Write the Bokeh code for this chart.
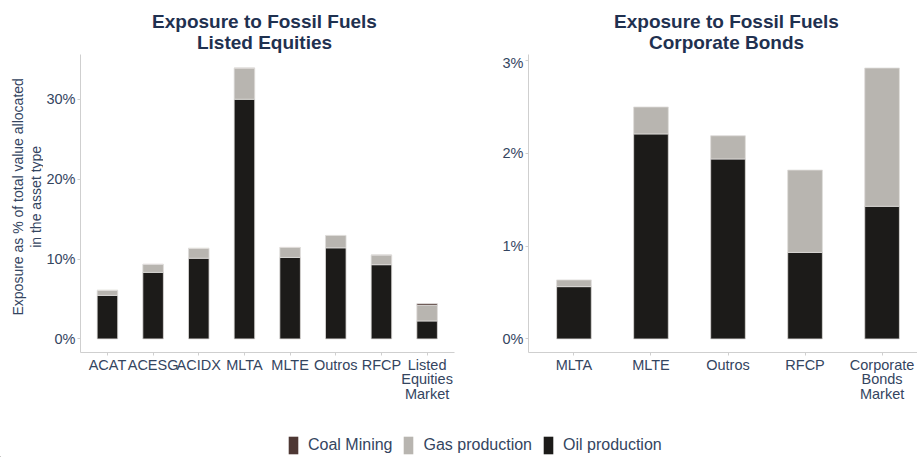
import math
from bokeh.plotting import figure
from bokeh.layouts import column, row
from bokeh.models import (Range1d, FixedTicker, PrintfTickFormatter, Label,
                          Legend, LegendItem, ColumnDataSource)
from bokeh.embed import file_html
from bokeh.resources import INLINE

# ---------------- data ----------------
cats_eq = ["ACAT", "ACESG", "ACIDX", "MLTA", "MLTE", "Outros", "RFCP",
           "Listed\nEquities\nMarket"]
oil_eq = [5.45, 8.33, 10.1, 30.0, 10.2, 11.4, 9.29, 2.25]
gas_eq = [0.63, 1.0, 1.23, 3.9, 1.25, 1.55, 1.21, 1.95]
coal_eq = [0, 0, 0, 0, 0, 0, 0, 0.21]

cats_cb = ["MLTA", "MLTE", "Outros", "RFCP", "Corporate\nBonds\nMarket"]
oil_cb = [0.564, 2.21, 1.94, 0.933, 1.43]
gas_cb = [0.072, 0.29, 0.25, 0.887, 1.49]
coal_cb = [0, 0, 0, 0, 0]

series_names = ["Coal Mining", "Gas production", "Oil production"]
title_eq = ["Exposure to Fossil Fuels", "Listed Equities"]
title_cb = ["Exposure to Fossil Fuels", "Corporate Bonds"]
ylabel_lines = ["Exposure as % of total value allocated", "in the asset type"]

# ---------------- styles ----------------
FONT = "Liberation Sans"
C_OIL = "#1c1b19"
C_GAS = "#b8b5b0"
C_COAL = "#4e3834"
TXT = "#34455f"
TTL = "#1f3150"
AX = "#cfcfcf"
EDGE = "#dedcd9"
ROW_H = 358


def blank(width, height):
    f = figure(width=width, height=height, output_backend="svg",
               toolbar_location=None, x_range=Range1d(0, width),
               y_range=Range1d(0, height), min_border=0)
    f.axis.visible = False
    f.grid.grid_line_color = None
    f.outline_line_color = None
    return f


def make_panel(cats, oil, gas, coal, width, bl, br, xr, yr, yticks):
    p = figure(width=width, height=ROW_H, output_backend="svg",
               toolbar_location=None, x_range=Range1d(*xr), y_range=Range1d(*yr),
               min_border_left=bl, min_border_right=br, min_border_top=0,
               min_border_bottom=60)
    p.outline_line_color = None
    p.grid.grid_line_color = None
    xs = list(range(1, len(cats) + 1))
    src = ColumnDataSource(dict(x=xs, oil=oil, gas=gas, coal=coal))
    stack = ["oil", "gas"] + (["coal"] if any(c > 0 for c in coal) else [])
    colors = [C_OIL, C_GAS, C_COAL][:len(stack)]
    p.vbar_stack(stack, x="x", width=0.45, source=src, fill_color=colors,
                 line_color=EDGE, line_width=0.8)
    for ax in (p.xaxis, p.yaxis):
        ax.axis_line_color = AX
        ax.major_tick_line_color = AX
        ax.minor_tick_line_color = None
        ax.major_tick_out = 3
        ax.major_tick_in = 0
        ax.major_label_text_font = FONT
        ax.major_label_text_font_size = "14.5px"
        ax.major_label_text_color = TXT
    p.xaxis.ticker = FixedTicker(ticks=xs)
    p.xaxis.major_label_overrides = {x: c for x, c in zip(xs, cats)}
    p.xaxis.major_label_standoff = 1
    p.xaxis.major_label_text_line_height = 0.93
    p.yaxis.ticker = FixedTicker(ticks=yticks)
    p.yaxis.formatter = PrintfTickFormatter(format="%d%%")
    p.yaxis.major_label_standoff = 2
    return p


# header with the two titles
head = blank(917, 54)
for cx, lines in ((264, title_eq), (726, title_cb)):
    for i, t in enumerate(lines):
        head.add_layout(Label(x=cx, y=33.3 - 21.6 * i, text=t, text_font=FONT,
                              text_font_size="19px", text_font_style="bold",
                              text_color=TTL, text_align="center",
                              text_baseline="middle"))

# y axis title column
ylab = blank(43, ROW_H)
for i, t in enumerate(ylabel_lines):
    ylab.add_layout(Label(x=17.5 + 17.5 * i, y=187, text=t,
                          angle=math.pi / 2, text_font=FONT,
                          text_font_size="14px", text_color=TXT,
                          text_align="center", text_baseline="middle"))

p1 = make_panel(cats_eq, oil_eq, gas_eq, coal_eq, 427, 35, 16,
                (0.41, 8.6), (-1.7, 35.6), [0, 10, 20, 30])
p2 = make_panel(cats_cb, oil_cb, gas_cb, coal_cb, 447, 58, 0,
                (0.41, 5.46), (-0.146, 3.066), [0, 1, 2, 3])

# ---------------- legend ----------------
pl = blank(917, 45)
dummy = ColumnDataSource(dict(x=[-100], top=[1]))
items = []
for name, col in zip(series_names, [C_COAL, C_GAS, C_OIL]):
    r = pl.vbar(x="x", top="top", width=1, source=dummy, fill_color=col,
                line_color=None)
    items.append(LegendItem(label=name, renderers=[r]))
leg = Legend(items=items, orientation="horizontal", location=(287, 1),
             padding=0, margin=0, spacing=10, glyph_width=12, glyph_height=22,
             label_height=22, label_standoff=9, border_line_color=None,
             background_fill_alpha=0, label_text_font=FONT,
             label_text_font_size="16px", label_text_color=TXT)
pl.add_layout(leg, "center")

layout = column(head, row(ylab, p1, p2), pl)
open("out.html", "w").write(file_html(layout, INLINE))
